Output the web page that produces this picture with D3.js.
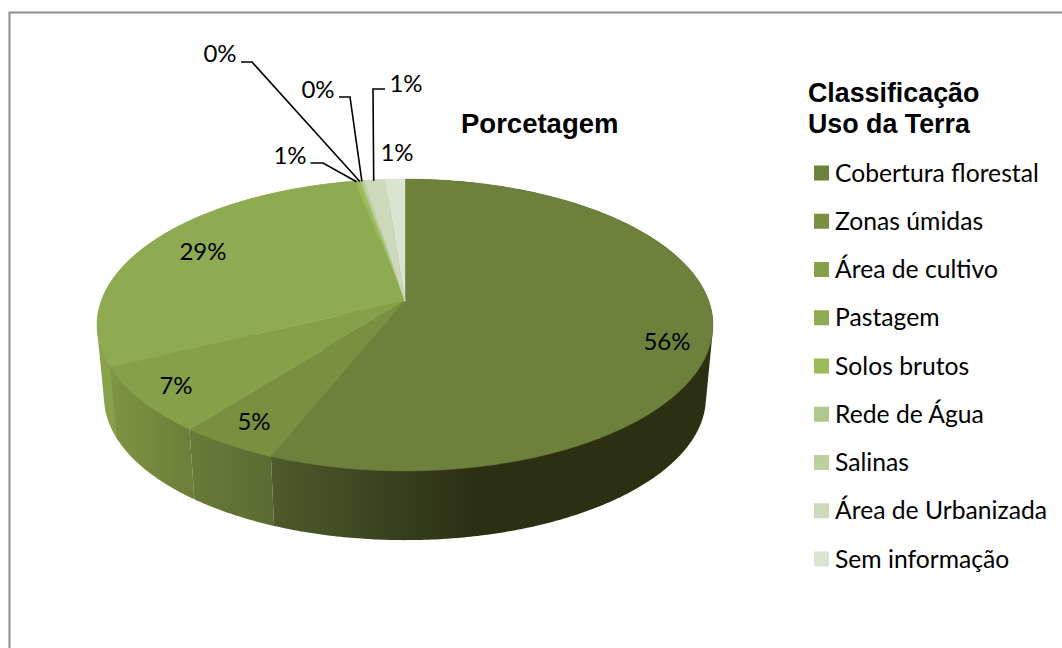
<!DOCTYPE html>
<html><head><meta charset="utf-8">
<script src="https://cdn.jsdelivr.net/npm/d3@7"></script>
<style>html,body{margin:0;padding:0;background:#fff}svg{display:block}</style>
</head><body><div id="c"></div>
<script>
const categories=["Cobertura florestal","Zonas úmidas","Área de cultivo","Pastagem","Solos brutos","Rede de Água","Salinas","Área de Urbanizada","Sem informação"];
const values=[56.1,4.5,7.3,29.05,0.3,0.1,0.15,1.3,1.2];
const valueLabels=["56%","5%","7%","29%","1%","0%","0%","1%","1%"];
const topColors=["#6d813c","#7a8f40","#869f49","#8fab52","#9bbb59","#aec78a","#bdd0a0","#ccdabb","#dae4d0"];
const wallStart=["#2b3013","#5c6b30","#6c7d37","#7f9644","#8aa34c","#9ab070","#a8bc88","#b5c5a0","#c2cfb5"];
const wallEnd=["#4e5b2b","#687a38","#7f9444","#88a24b","#8aa34c","#9ab070","#a8bc88","#b5c5a0","#c2cfb5"];
const chartTitle="Porcetagem";
const legendTitle=["Classificação","Uso da Terra"];

const W=1062,H=648;
const svg=d3.select("#c").append("svg").attr("width",W).attr("height",H);
const defs=svg.append("defs");
svg.append("rect").attr("width",W).attr("height",H).attr("fill","#fff");
svg.append("path").attr("d",`M9.5,${H}V12.5H${W}`).attr("fill","none").attr("stroke","#8c8c8c").attr("stroke-width",2);

// perspective projection of the pie's unit circle onto the tilted disc
const k=0.1645;
function projector(cx,cy,a,b){
  return ang=>{const u=Math.sin(ang),v=Math.cos(ang),w=1+k*v;return [cx+a*u/w,cy-b*v/w];};
}
const topP=projector(405,301,303.8,142);
const botP=projector(405,374,296.8,138.8);
const slices=d3.pie().sort(null).value(d=>d)(values);
const arcPts=(P,s,e)=>{const n=Math.max(2,Math.ceil((e-s)/0.01));return d3.range(n+1).map(i=>P(s+(e-s)*i/n));};
const line=d3.line();

// walls: back slices first, front slices last
const walls=svg.append("g");
[8,7,6,5,4,3,2,1,0].forEach(i=>{
  const s=slices[i];
  const pts=d3.polygonHull(arcPts(topP,s.startAngle,s.endAngle).concat(arcPts(botP,s.startAngle,s.endAngle)));
  const xs=pts.map(p=>p[0]);
  const right=d3.max(xs),left=d3.min(xs);
  const g=defs.append("linearGradient").attr("id","w"+i).attr("gradientUnits","userSpaceOnUse")
    .attr("x1",right).attr("x2",left).attr("y1",0).attr("y2",0);
  if(i===0){
    g.append("stop").attr("offset",0).attr("stop-color",wallStart[i]);
    g.append("stop").attr("offset",0.55).attr("stop-color",wallStart[i]);
    g.append("stop").attr("offset",0.75).attr("stop-color","#3a4320");
    g.append("stop").attr("offset",1).attr("stop-color",wallEnd[i]);
  }else{
    g.append("stop").attr("offset",0).attr("stop-color",wallStart[i]);
    g.append("stop").attr("offset",1).attr("stop-color",wallEnd[i]);
  }
  walls.append("path").attr("d",line(pts)+"Z").attr("fill",`url(#w${i})`);
});

// top faces
const tops=svg.append("g");
slices.forEach((s,i)=>{
  tops.append("path").attr("d",line([[405,301]].concat(arcPts(topP,s.startAngle,s.endAngle)))+"Z")
    .attr("fill",topColors[i]).attr("stroke",topColors[i]).attr("stroke-width",0.4);
});

// labels and leader lines
const sansFont="Lato, 'Open Sans', sans-serif";
const labelPos=[[667,342],[254,422],[176,386],[203,252],[290,156],[220,54],[318,90],[406,84],[397,153]];
const elbows={4:[[310.5,163],[323,163]],5:[[241,62],[252,62]],6:[[339,97],[350,97]],7:[[385,89],[373,89]]};
Object.keys(elbows).forEach(i=>{
  const s=slices[i],a=topP((s.startAngle+s.endAngle)/2);
  svg.append("path").attr("d",line(elbows[i].concat([[a[0]-1,a[1]+1]])))
    .attr("fill","none").attr("stroke","#000").attr("stroke-width",1.6);
});
svg.append("g").selectAll("text").data(valueLabels).join("text")
  .attr("x",(d,i)=>labelPos[i][0]).attr("y",(d,i)=>labelPos[i][1]).attr("dy","0.35em")
  .attr("text-anchor","middle").attr("font-family",sansFont).attr("font-size",24).attr("fill","#000").text(d=>d);

// titles
svg.append("text").attr("x",461).attr("y",133).attr("font-family","'Liberation Sans',Arial,sans-serif")
  .attr("font-weight","bold").attr("font-size",27.5).attr("fill","#000").text(chartTitle);
svg.append("g").selectAll("text").data(legendTitle).join("text")
  .attr("x",808).attr("y",(d,i)=>102+i*31).attr("font-family","'Liberation Sans',Arial,sans-serif")
  .attr("font-weight","bold").attr("font-size",26.8).attr("fill","#000").text(d=>d);

// legend
const ly=d3.scalePoint().domain(categories).range([173,559]);
const lg=svg.append("g").selectAll("g").data(categories).join("g").attr("transform",d=>`translate(814,${ly(d)})`);
lg.append("rect").attr("x",0).attr("y",-7.5).attr("width",15).attr("height",15).attr("fill",(d,i)=>topColors[i]);
lg.append("text").attr("x",21).attr("dy","0.35em").attr("font-family",sansFont).attr("font-size",24.7).attr("fill","#000").text(d=>d);
</script></body></html>
